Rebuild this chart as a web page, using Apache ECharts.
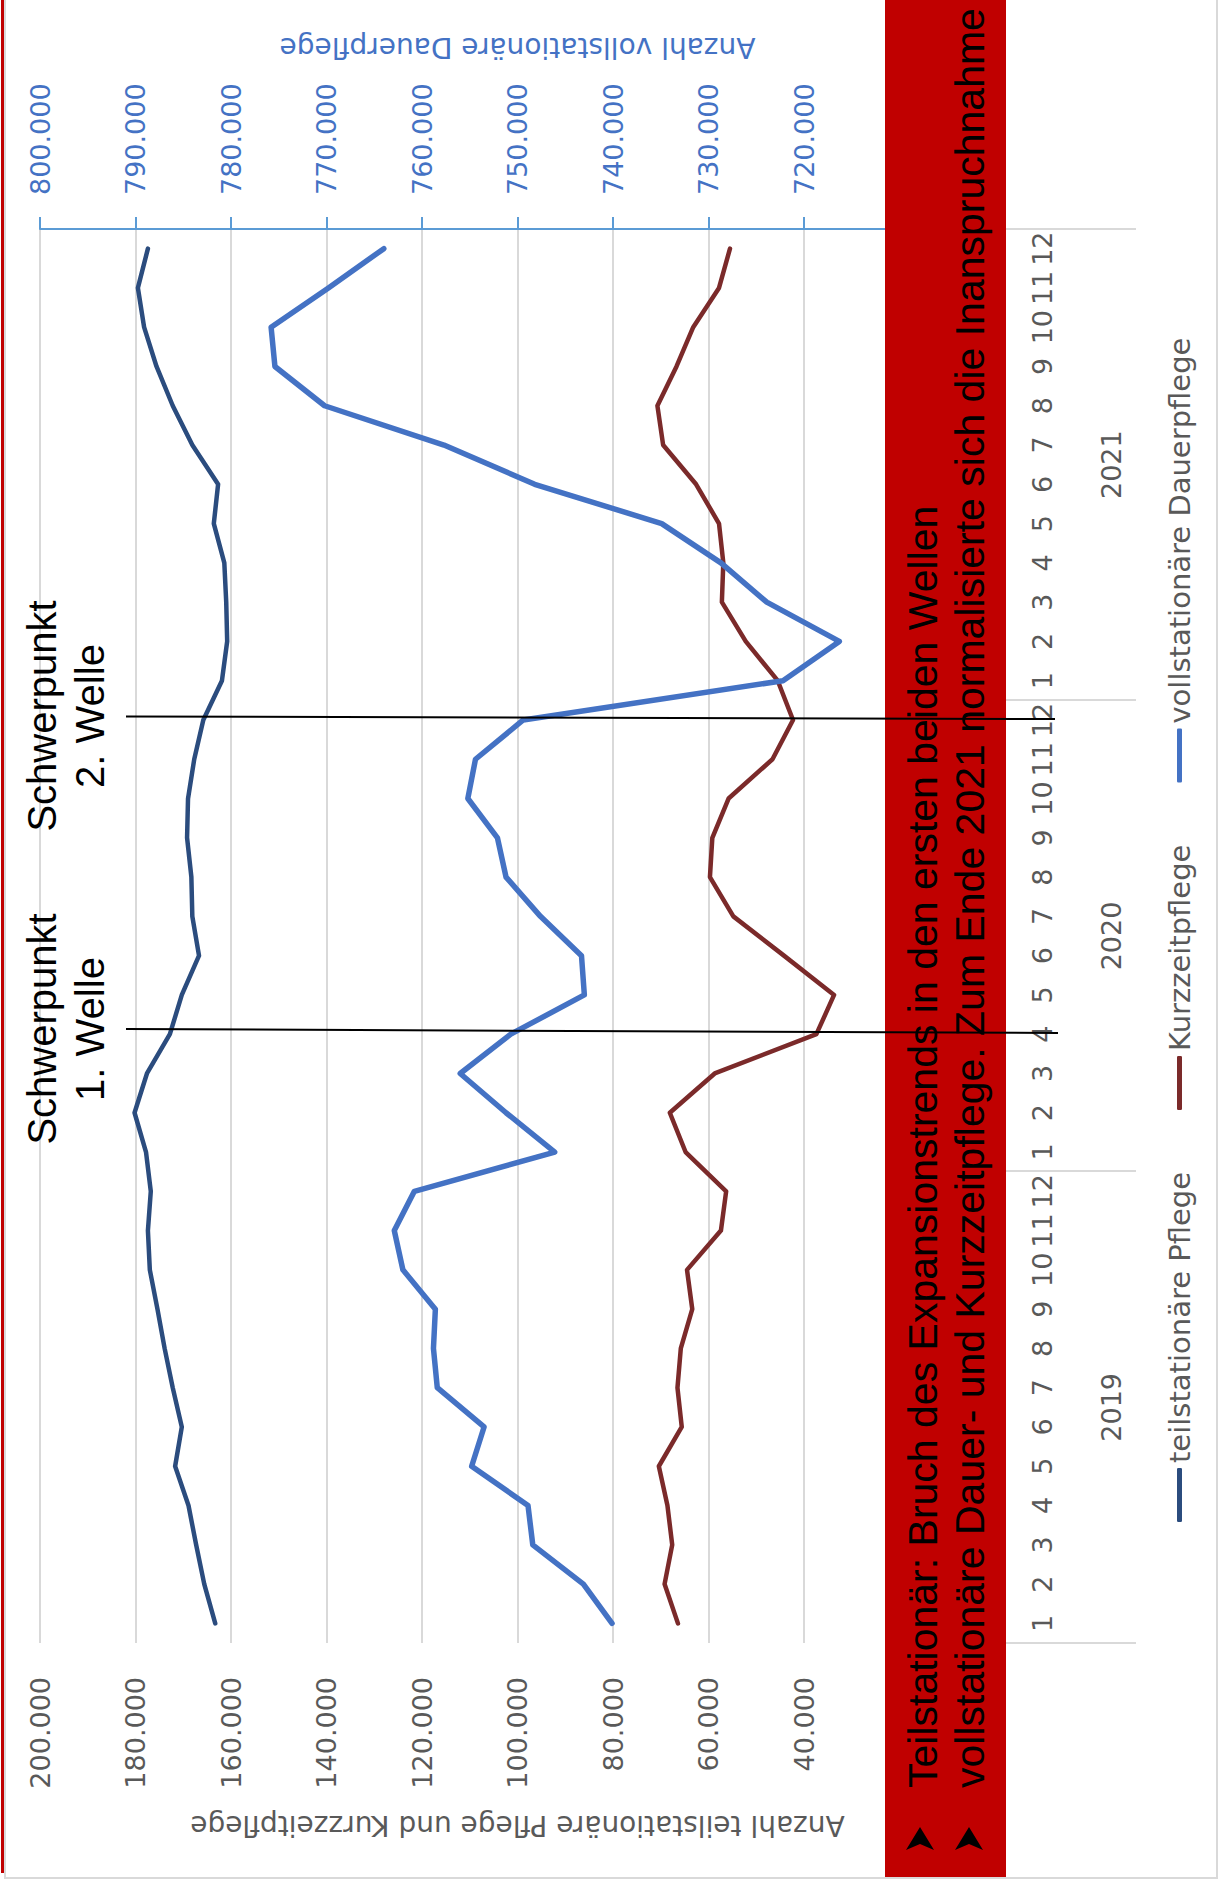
<!DOCTYPE html>
<html><head><meta charset="utf-8">
<script src="https://cdn.jsdelivr.net/npm/echarts@6/dist/echarts.min.js"></script>
<style>
html,body{margin:0;padding:0;overflow:hidden;width:1220px;height:1887px;background:#fff;}
#chart{position:absolute;left:0;top:1887px;width:1887px;height:1220px;transform-origin:0 0;transform:rotate(-90deg);}
</style></head><body><div id="chart"></div>
<script>
// Categories
const months = ['1','2','3','4','5','6','7','8','9','10','11','12',
                '1','2','3','4','5','6','7','8','9','10','11','12',
                '1','2','3','4','5','6','7','8','9','10','11','12'];
const years = ['2019','2020','2021'];
// Series values
const teilstationaer = [163300,165600,167300,168900,171700,170300,172200,173900,175400,177000,177400,176800,
                        177800,180200,177600,172800,170300,166700,168100,168300,169200,169000,167700,165800,
                        161900,160800,161000,161400,163600,162700,168100,172200,175600,178200,179500,177400];
const kurzzeitpflege = [66400,69200,67600,68600,70400,65600,66500,65800,63400,64500,57400,56300,
                        64800,68100,58700,37400,33700,44200,54800,59700,59200,55800,46600,42300,
                        45500,52200,57200,56900,57800,62600,69500,70700,66700,63200,57800,55500];
const vollstationaer = [740100,743100,748400,748900,754800,753500,758400,758800,758600,762000,762900,760800,
                        746100,751200,756000,750700,743000,743300,747600,751200,752100,755200,754400,749400,
                        722200,716300,723900,728700,734900,748200,757700,770200,775400,775800,769800,764000];
const seriesNames = ['teilstationäre Pflege','Kurzzeitpflege','vollstationäre Dauerpflege'];
const leftAxisRange = [0, 200000, 20000];
const rightAxisRange = [700000, 800000, 10000];
const leftAxisTitle = 'Anzahl teilstationäre Pflege und Kurzzeitpflege';
const rightAxisTitle = 'Anzahl vollstationäre Dauerpflege';
const bannerLines = ['Teilstationär: Bruch des Expansionstrends in den ersten beiden Wellen',
                     'vollstationäre Dauer- und Kurzzeitpflege. Zum Ende 2021 normalisierte sich die Inanspruchnahme'];
const annotations = ['Schwerpunkt\n1. Welle','Schwerpunkt\n2. Welle'];

const FF = 'DejaVu Sans';
const fmt = v => v === 0 ? '0' : String(v).replace(/\B(?=(\d{3})+(?!\d))/g, '.');

const chart = echarts.init(document.getElementById('chart'), null, {renderer: 'svg'});

function arrow(cy) {
  return {type:'polygon', z:110, shape:{points:[[60,cy],[37,cy-14],[43,cy],[37,cy+14]]}, style:{fill:'#000'}};
}

chart.setOption({
  backgroundColor: '#fff',
  animation: false,
  grid: {left: 244, right: 229, top: 40, bottom: 225, containLabel: false, outerBoundsMode: 'none'},
  legend: {
    data: seriesNames, left: 365, top: 1165, padding: 0, itemGap: 62,
    itemWidth: 54, itemHeight: 5, icon: 'roundRect',
    textStyle: {fontFamily: FF, fontSize: 29, color: '#595959'}
  },
  xAxis: [
    {type: 'category', data: months, boundaryGap: true, position: 'bottom',
     axisLine: {show: true, lineStyle: {color: '#D9D9D9', width: 2}},
     axisTick: {show: false},
     axisLabel: {interval: 0, margin: 34, fontFamily: FF, fontSize: 27, color: '#595959'}},
    {type: 'category', data: years, boundaryGap: true, position: 'bottom',
     axisLine: {show: false},
     axisTick: {show: true, length: 141, lineStyle: {color: '#D9D9D9', width: 2}},
     axisLabel: {interval: 0, margin: 103, fontFamily: FF, fontSize: 27, color: '#595959'}}
  ],
  yAxis: [
    {type: 'value', position: 'left', min: leftAxisRange[0], max: leftAxisRange[1], interval: leftAxisRange[2],
     axisLine: {show: false}, axisTick: {show: false},
     splitLine: {show: true, lineStyle: {color: '#D9D9D9', width: 2}},
     axisLabel: {formatter: fmt, margin: 34, fontFamily: FF, fontSize: 27, color: '#595959'},
     name: leftAxisTitle, nameLocation: 'middle', nameRotate: 90, nameGap: 168,
     nameTextStyle: {fontFamily: FF, fontSize: 28, color: '#595959'}},
    {type: 'value', position: 'right', min: rightAxisRange[0], max: rightAxisRange[1], interval: rightAxisRange[2],
     axisLine: {show: true, lineStyle: {color: '#5B9BD5', width: 2}},
     axisTick: {show: true, length: 12, lineStyle: {color: '#5B9BD5', width: 2}},
     splitLine: {show: false},
     axisLabel: {formatter: fmt, margin: 34, fontFamily: FF, fontSize: 27, color: '#4472C4'},
     name: rightAxisTitle, nameLocation: 'middle', nameRotate: 90, nameGap: 168,
     nameTextStyle: {fontFamily: FF, fontSize: 28, color: '#4472C4'}}
  ],
  series: [
    {name: seriesNames[0], type: 'line', data: teilstationaer, xAxisIndex: 0, yAxisIndex: 0,
     symbol: 'none', color: '#2B4C7E', lineStyle: {width: 4.5, color: '#2B4C7E', cap: 'round', join: 'round'}},
    {name: seriesNames[1], type: 'line', data: kurzzeitpflege, xAxisIndex: 0, yAxisIndex: 0,
     symbol: 'none', color: '#7B2A2A', lineStyle: {width: 4.5, color: '#7B2A2A', cap: 'round', join: 'round'}},
    {name: seriesNames[2], type: 'line', data: vollstationaer, xAxisIndex: 0, yAxisIndex: 1,
     symbol: 'none', color: '#4472C4', lineStyle: {width: 5.5, color: '#4472C4', cap: 'round', join: 'round'}}
  ],
  graphic: [
    {type: 'rect', z: 90, shape: {x: 9, y: 5, width: 1890, height: 1212}, style: {fill: 'none', stroke: '#D9D9D9', lineWidth: 2}},
    {type: 'rect', z: 91, shape: {x: 14, y: 1, width: 1873, height: 3}, style: {fill: '#C00000'}},
    {type: 'rect', z: 100, shape: {x: 10, y: 885, width: 1877, height: 121}, style: {fill: '#C00000'}},
    {type: 'text', z: 105, x: 99, y: 923, style: {text: bannerLines[0], fill: '#000', font: '41px "Liberation Sans"', textAlign: 'left', align: 'left', textVerticalAlign: 'middle', verticalAlign: 'middle'}},
    {type: 'text', z: 105, x: 99, y: 970, style: {text: bannerLines[1], fill: '#000', font: '41px "Liberation Sans"', textAlign: 'left', align: 'left', textVerticalAlign: 'middle', verticalAlign: 'middle'}},
    arrow(920), arrow(969),
    {type: 'text', z: 105, x: 858, y: 18, style: {text: annotations[0], fill: '#000', font: '40px "Liberation Sans"', lineHeight: 48, textAlign: 'center', align: 'center', textVerticalAlign: 'top', verticalAlign: 'top'}},
    {type: 'text', z: 105, x: 1171, y: 18, style: {text: annotations[1], fill: '#000', font: '40px "Liberation Sans"', lineHeight: 48, textAlign: 'center', align: 'center', textVerticalAlign: 'top', verticalAlign: 'top'}},
    {type: 'line', z: 120, shape: {x1: 858, y1: 126, x2: 854, y2: 1058}, style: {stroke: '#000', lineWidth: 2}},
    {type: 'line', z: 120, shape: {x1: 1170.5, y1: 126, x2: 1168, y2: 1055}, style: {stroke: '#000', lineWidth: 2}}
  ]
});
</script></body></html>
